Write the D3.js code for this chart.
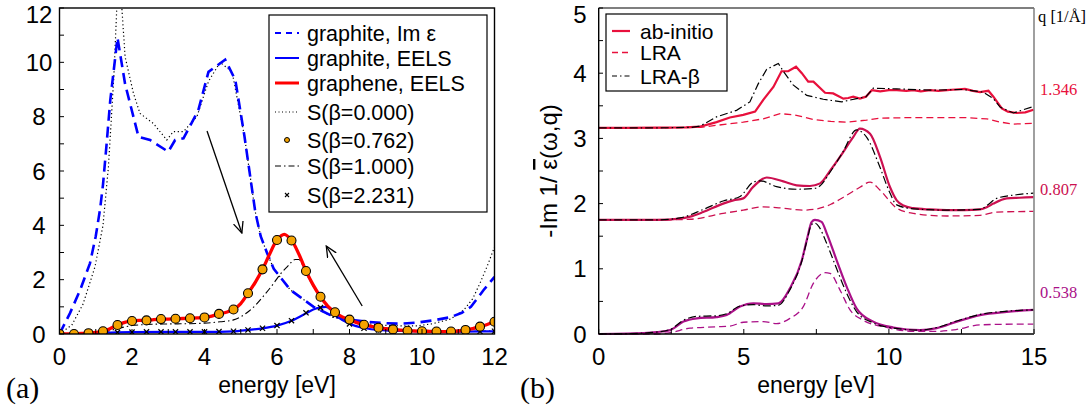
<!DOCTYPE html>
<html><head><meta charset="utf-8">
<script src="https://cdn.jsdelivr.net/npm/d3@7"></script>
<style>body{margin:0;background:#fff}svg{display:block}</style>
</head><body>
<svg id="c" width="1089" height="414"></svg>
<script>
// ---------- Panel (a) data ----------
const imEpsE = [0,0.29,0.57,0.84,1.0,1.12,1.2,1.3,1.4,1.6,1.81,2.18,2.5,3.0,3.19,3.42,3.83,4.11,4.57,4.85,5.1,5.4,5.55,5.72,5.91,6.37,7.01,7.56,8.02,8.5,8.94,9.4,9.87,10.3,10.79,11.1,11.35,11.55,11.7,12];
const imEpsV = [0,0.77,1.62,2.6,3.6,4.6,5.5,7.0,8.6,10.9,9.2,7.26,7.14,6.71,7.14,7.2,8.24,9.65,10.1,9.35,7.3,4.5,3.6,3.0,2.4,1.62,1.0,0.64,0.52,0.45,0.40,0.38,0.42,0.5,0.62,0.78,1.0,1.35,1.62,2.1];
const s000E = [0,0.34,0.65,0.98,1.2,1.35,1.5,1.6,1.72,1.81,2.04,2.22,2.59,2.96,3.14,3.42,3.79,4.11,4.43,4.76,5.1,5.4,5.55,5.72,5.91,6.37,7.01,7.56,8.02,8.5,8.94,9.4,9.87,10.3,10.79,11.15,11.4,11.6,11.8,12];
const s000V = [0,0.33,1.1,2.48,4.0,6.16,9.5,12.6,12.0,10.2,8.86,8.12,7.75,7.14,7.45,7.45,8.0,9.3,10.0,9.65,7.3,4.5,3.6,3.0,2.4,1.62,1.0,0.62,0.47,0.38,0.32,0.3,0.3,0.38,0.55,0.88,1.3,1.87,2.5,3.2];
const eelsGraphiteE = [0,0.4,0.8,1.2,1.6,2,3,4,4.8,5.2,5.6,6.0,6.4,6.8,7.0,7.2,7.35,7.5,7.66,8.0,8.4,8.9,9.5,10,11,12];
const eelsGraphiteV = [0,0,0.01,0.04,0.06,0.07,0.08,0.08,0.1,0.15,0.21,0.31,0.49,0.76,0.9,0.98,1.0,0.88,0.66,0.38,0.22,0.14,0.11,0.1,0.09,0.1];
const eelsGrapheneE = d3.range(0,12.001,0.2);
const eelsGrapheneV = [0,0,0.01,0.02,0.03,0.06,0.1,0.2,0.33,0.43,0.48,0.5,0.5,0.53,0.55,0.55,0.56,0.57,0.58,0.59,0.61,0.66,0.74,0.8,0.9,1.12,1.5,1.9,2.38,2.95,3.46,3.67,3.45,2.95,2.32,1.8,1.37,1.03,0.8,0.63,0.53,0.42,0.34,0.28,0.23,0.2,0.17,0.14,0.12,0.11,0.1,0.1,0.09,0.09,0.09,0.11,0.15,0.2,0.27,0.35,0.45];
const markE = d3.range(0,12.001,0.4);
const s0762V = [0,0,0.03,0.1,0.33,0.48,0.5,0.55,0.56,0.58,0.61,0.74,0.9,1.5,2.38,3.46,3.44,2.32,1.37,0.8,0.53,0.34,0.23,0.17,0.12,0.1,0.09,0.09,0.15,0.27,0.45];
const s2231V = [0,0,0.01,0.03,0.06,0.07,0.08,0.08,0.08,0.08,0.08,0.09,0.1,0.15,0.21,0.31,0.49,0.78,0.97,0.7,0.37,0.21,0.15,0.12,0.11,0.1,0.1,0.09,0.09,0.09,0.1];
const s1000E = [0,0.4,0.8,1.2,1.6,2.0,2.4,3.0,3.6,4.0,4.43,4.8,5.17,5.4,5.63,5.9,6.09,6.3,6.5,6.6,6.8,7.0,7.2,7.6,8.0,8.4,8.8,9.2,9.6,10,10.4,10.8,11.2,11.6,12];
const s1000V = [0,0,0.02,0.06,0.2,0.31,0.35,0.37,0.38,0.4,0.45,0.52,0.78,1.05,1.4,1.85,2.2,2.5,2.74,2.74,2.25,1.75,1.33,0.77,0.5,0.32,0.22,0.16,0.12,0.1,0.09,0.08,0.09,0.1,0.12];
const xTicksA = [0,2,4,6,8,10,12];
const yTicksA = [0,2,4,6,8,10,12];
const legendA = ["graphite, Im \u03b5","graphite, EELS","graphene, EELS","S(\u03b2=0.000)","S(\u03b2=0.762)","S(\u03b2=1.000)","S(\u03b2=2.231)"];

// ---------- Panel (b) data ----------
const qLabels = ["1.346","0.807","0.538"];
const abTopE = [0,1,2,3,3.5,4.06,4.52,4.98,5.39,5.67,6.02,6.3,6.53,6.8,7.0,7.22,7.4,7.8,8.08,8.43,8.6,8.77,9.0,9.21,9.41,9.7,10.0,10.27,10.6,10.84,11.1,11.42,11.7,12.0,12.3,12.62,12.9,13.14,13.43,13.6,13.89,14.1,14.4,14.7,14.98];
const abTopV = [3.16,3.16,3.165,3.17,3.18,3.25,3.32,3.36,3.41,3.59,3.79,4.03,4.03,4.1,4.0,3.87,3.87,3.7,3.69,3.61,3.62,3.64,3.61,3.64,3.74,3.72,3.74,3.74,3.73,3.74,3.72,3.74,3.73,3.74,3.75,3.76,3.73,3.71,3.73,3.64,3.46,3.41,3.39,3.4,3.44];
const lraTopE = [0,2,3.5,4.06,4.98,5.67,6.25,6.75,7.4,8.0,8.55,9.23,9.69,10.84,12.56,13.37,13.83,14.29,14.98];
const lraTopV = [3.16,3.16,3.17,3.2,3.25,3.3,3.38,3.36,3.29,3.26,3.25,3.28,3.31,3.32,3.32,3.3,3.25,3.22,3.23];
const betaTopE = [0,2,3.2,3.5,4.06,4.75,5.21,5.5,5.79,6.19,6.36,6.7,7.17,7.74,8.37,8.89,9.21,9.46,10.27,11.42,12.56,13.25,13.6,13.83,14.29,14.98];
const betaTopV = [3.16,3.16,3.17,3.19,3.33,3.43,3.56,3.84,4.06,4.15,4.03,3.82,3.66,3.6,3.56,3.61,3.64,3.77,3.76,3.74,3.75,3.71,3.61,3.48,3.39,3.49];
const abMidE = [0,2,2.8,3.15,3.6,4.29,4.64,4.98,5.33,5.79,6.36,6.82,7.28,7.63,8.0,8.32,8.77,9.0,9.35,9.69,10.04,10.27,10.5,10.84,11.4,12,12.6,13.14,13.4,13.6,14.06,14.5,14.98];
const abMidV = [1.75,1.75,1.77,1.8,1.87,2.0,2.05,2.08,2.26,2.4,2.34,2.28,2.27,2.31,2.52,2.72,3.02,3.15,3.07,2.72,2.25,2.05,1.97,1.93,1.91,1.9,1.9,1.91,1.95,2.0,2.08,2.09,2.1];
const betaMidE = [0,2,2.8,3.6,4.29,4.87,5.33,5.56,6.13,6.82,7.4,7.62,8.0,8.4,8.89,9.23,9.69,10.0,10.27,10.84,12,13.14,13.4,13.71,14.29,14.98];
const betaMidV = [1.75,1.75,1.78,1.91,2.04,2.11,2.33,2.35,2.26,2.22,2.23,2.27,2.5,2.78,3.13,3.02,2.56,2.2,1.98,1.92,1.9,1.91,1.98,2.08,2.13,2.16];
const lraMidE = [0,2,3.15,4.29,4.98,5.67,6.36,7.05,7.4,8.0,8.55,9.0,9.35,9.69,10.27,10.84,11.99,13.14,13.71,14.98];
const lraMidV = [1.75,1.75,1.76,1.85,1.9,1.95,1.93,1.9,1.91,1.99,2.13,2.25,2.33,2.21,1.93,1.85,1.81,1.82,1.87,1.88];
const abBotE = [0,1,2.0,2.46,2.92,3.38,4.06,4.41,4.87,5.33,5.79,6.19,6.59,7.0,7.17,7.34,7.45,7.68,7.86,8.2,8.55,8.89,9.46,10.15,11.07,11.65,12.34,13.14,14.06,14.98];
const abBotV = [0,0.005,0.03,0.06,0.19,0.24,0.26,0.29,0.42,0.47,0.46,0.47,0.7,1.13,1.44,1.72,1.75,1.72,1.54,1.13,0.72,0.39,0.19,0.1,0.06,0.09,0.19,0.29,0.34,0.37];
const betaBotE = [0,1,2.0,2.46,2.92,3.38,4.06,4.41,4.87,5.33,5.79,6.19,6.59,7.0,7.17,7.34,7.45,7.6,7.8,8.2,8.55,8.89,9.46,10.15,11.07,11.65,12.34,13.14,14.06,14.98];
const betaBotV = [0,0.005,0.03,0.07,0.21,0.27,0.28,0.31,0.43,0.45,0.43,0.44,0.68,1.12,1.42,1.68,1.7,1.64,1.45,1.0,0.62,0.34,0.17,0.09,0.06,0.1,0.2,0.3,0.35,0.37];
const lraBotE = [0,2,2.46,3.15,4.06,4.52,4.98,5.67,6.13,6.59,7.05,7.4,7.8,7.97,8.32,8.66,9.12,9.92,10.84,11.65,12.34,13.14,14.29,14.98];
const lraBotV = [0,0,0.02,0.09,0.11,0.12,0.18,0.19,0.16,0.24,0.42,0.78,0.94,0.93,0.67,0.37,0.21,0.1,0.04,0.04,0.07,0.14,0.15,0.15];
const xTicksB = [0,5,10,15];
const yTicksB = [0,1,2,3,4,5];
const legendB = ["ab-initio","LRA","LRA-\u03b2"];

// ---------- drawing ----------
const svg = d3.select("#c");
const SANS = "Liberation Sans, Arial, sans-serif";
const SERIF = "Liberation Serif, Times New Roman, serif";
const zip = (E,V) => E.map((e,i)=>[e,V[i]]);

// Panel a
const xA = d3.scaleLinear().domain([0,12]).range([59.5,494.5]);
const yA = d3.scaleLinear().domain([0,12]).range([334,8]);
svg.append("defs").append("clipPath").attr("id","clipA").append("rect")
  .attr("x",59.5).attr("y",8).attr("width",435).attr("height",326);
const gA = svg.append("g");
const plotA = gA.append("g").attr("clip-path","url(#clipA)");
const lineA = c => d3.line().x(d=>xA(d[0])).y(d=>yA(d[1])).curve(c||d3.curveLinear);

plotA.append("path").datum(zip(s000E,s000V)).attr("d",lineA()).attr("fill","none")
  .attr("stroke","#000").attr("stroke-width",1.2).attr("stroke-dasharray","1.2,2.6");
plotA.append("path").datum(zip(imEpsE,imEpsV)).attr("d",lineA()).attr("fill","none")
  .attr("stroke","#0000ff").attr("stroke-width",2.6).attr("stroke-dasharray","11,6");
plotA.append("path").datum(zip(s1000E,s1000V)).attr("d",lineA(d3.curveMonotoneX)).attr("fill","none")
  .attr("stroke","#000").attr("stroke-width",1.1).attr("stroke-dasharray","7,3,1.5,3");
plotA.append("path").datum(zip(eelsGraphiteE,eelsGraphiteV)).attr("d",lineA(d3.curveMonotoneX)).attr("fill","none")
  .attr("stroke","#0000ff").attr("stroke-width",2.2);
plotA.append("path").datum(zip(eelsGrapheneE,eelsGrapheneV)).attr("d",lineA(d3.curveCatmullRom)).attr("fill","none")
  .attr("stroke","#ff0000").attr("stroke-width",3.3);
const xm = plotA.append("g");
zip(markE,s2231V).forEach(d=>{
  const cx=xA(d[0]), cy=yA(d[1]), r=2.6;
  xm.append("path").attr("d",`M${cx-r},${cy-r}L${cx+r},${cy+r}M${cx-r},${cy+r}L${cx+r},${cy-r}`)
    .attr("stroke","#000").attr("stroke-width",1.2);
});
plotA.append("g").selectAll("circle").data(zip(markE,s0762V)).join("circle")
  .attr("cx",d=>xA(d[0])).attr("cy",d=>yA(d[1])).attr("r",4.5)
  .attr("fill","#f5a300").attr("stroke","#000").attr("stroke-width",1.1);

// arrows
const defs = svg.select("defs");
defs.append("marker").attr("id","arr").attr("viewBox","0 0 12 12").attr("refX",11).attr("refY",6)
  .attr("markerWidth",12).attr("markerHeight",12).attr("markerUnits","userSpaceOnUse").attr("orient","auto")
  .append("path").attr("d","M0,1L11,6L0,11").attr("fill","none").attr("stroke","#000").attr("stroke-width",1.3);
const arrows = [[4.07,7.47,5.03,3.72],[8.35,1.03,7.36,3.24]];
arrows.forEach(a=>{
  gA.append("line").attr("x1",xA(a[0])).attr("y1",yA(a[1])).attr("x2",xA(a[2])).attr("y2",yA(a[3]))
    .attr("stroke","#000").attr("stroke-width",1.3).attr("marker-end","url(#arr)");
});

gA.append("rect").attr("x",59.5).attr("y",8).attr("width",435).attr("height",326)
  .attr("fill","none").attr("stroke","#000").attr("stroke-width",1.4);
d3.range(0,12.01,1).forEach(v=>{
  gA.append("line").attr("x1",xA(v)).attr("x2",xA(v)).attr("y1",334).attr("y2",329).attr("stroke","#000");
  gA.append("line").attr("y1",yA(v)).attr("y2",yA(v)).attr("x1",59.5).attr("x2",64).attr("stroke","#000");
});
gA.selectAll("text.xt").data(xTicksA).join("text").attr("class","xt")
  .attr("x",d=>xA(d)).attr("y",365).attr("text-anchor","middle")
  .attr("font-family",SANS).attr("font-size",24).text(d=>d);
gA.selectAll("text.yt").data(yTicksA).join("text").attr("class","yt")
  .attr("x",39).attr("y",d=>Math.max(yA(d)+8.5,22.5)).attr("text-anchor","middle")
  .attr("font-family",SANS).attr("font-size",24).text(d=>d);
gA.append("text").attr("x",277).attr("y",393).attr("text-anchor","middle")
  .attr("font-family",SANS).attr("font-size",23).text("energy [eV]");
gA.append("text").attr("x",6).attr("y",398).attr("font-family",SERIF).attr("font-size",30).text("(a)");

// legend a
const lgA = gA.append("g");
lgA.append("rect").attr("x",269).attr("y",15).attr("width",218).attr("height",197)
  .attr("fill","#fff").attr("stroke","#000").attr("stroke-width",1.2);
const rowY = [33,58,83,112,140,166,195];
legendA.forEach((t,i)=>{
  const y=rowY[i];
  if(i===0) lgA.append("line").attr("x1",275).attr("x2",299).attr("y1",y).attr("y2",y).attr("stroke","#0000ff").attr("stroke-width",2).attr("stroke-dasharray","6,5");
  if(i===1) lgA.append("line").attr("x1",275).attr("x2",299).attr("y1",y).attr("y2",y).attr("stroke","#0000ff").attr("stroke-width",2);
  if(i===2) lgA.append("line").attr("x1",275).attr("x2",299).attr("y1",y).attr("y2",y).attr("stroke","#ff0000").attr("stroke-width",3);
  if(i===3) lgA.append("line").attr("x1",275).attr("x2",299).attr("y1",y).attr("y2",y).attr("stroke","#000").attr("stroke-width",1).attr("stroke-dasharray","1,2.5");
  if(i===4) lgA.append("circle").attr("cx",287).attr("cy",y).attr("r",2.5).attr("fill","#f5a300").attr("stroke","#000").attr("stroke-width",1);
  if(i===5) lgA.append("line").attr("x1",275).attr("x2",299).attr("y1",y).attr("y2",y).attr("stroke","#000").attr("stroke-width",1).attr("stroke-dasharray","6,3,1.5,3");
  if(i===6){const r=2;lgA.append("path").attr("d",`M${287-r},${y-r}L${287+r},${y+r}M${287-r},${y+r}L${287+r},${y-r}`).attr("stroke","#000").attr("stroke-width",1.1);}
  lgA.append("text").attr("x",307).attr("y",y+7.5).attr("font-family",SANS).attr("font-size",21.5).text(t);
});

// Panel b
const xB = d3.scaleLinear().domain([0,15]).range([598.7,1034]);
const yB = d3.scaleLinear().domain([0,5]).range([334,8]);
const gB = svg.append("g");
const lineB = c => d3.line().x(d=>xB(d[0])).y(d=>yB(d[1])).curve(c||d3.curveLinear);
const cTop="#e8103c", cMid="#cc1050", cBot="#aa1088";
const groups = [
  {ab:[abTopE,abTopV],lra:[lraTopE,lraTopV],beta:[betaTopE,betaTopV],c:cTop,curve:d3.curveLinear},
  {ab:[abMidE,abMidV],lra:[lraMidE,lraMidV],beta:[betaMidE,betaMidV],c:cMid,curve:d3.curveMonotoneX},
  {ab:[abBotE,abBotV],lra:[lraBotE,lraBotV],beta:[betaBotE,betaBotV],c:cBot,curve:d3.curveMonotoneX}
];
groups.forEach(g=>{
  gB.append("path").datum(zip(...g.lra)).attr("d",lineB(g.curve)).attr("fill","none")
    .attr("stroke",g.c).attr("stroke-width",1.3).attr("stroke-dasharray","7,4");
  gB.append("path").datum(zip(...g.ab)).attr("d",lineB(g.curve)).attr("fill","none")
    .attr("stroke",g.c).attr("stroke-width",2.2);
  gB.append("path").datum(zip(...g.beta)).attr("d",lineB(g.curve)).attr("fill","none")
    .attr("stroke","#000").attr("stroke-width",1.2).attr("stroke-dasharray","8,3,1.5,3");
});
gB.append("line").attr("x1",598.7).attr("x2",1034).attr("y1",8).attr("y2",8).attr("stroke","#000").attr("stroke-width",1.2);
gB.append("line").attr("x1",598.7).attr("x2",1034).attr("y1",334).attr("y2",334).attr("stroke","#000").attr("stroke-width",1.4);
gB.append("line").attr("x1",598.7).attr("x2",598.7).attr("y1",8).attr("y2",334).attr("stroke","#000").attr("stroke-width",1.4);
gB.append("line").attr("x1",1034).attr("x2",1034).attr("y1",8).attr("y2",334).attr("stroke","#777").attr("stroke-width",1.4);
d3.range(0,15.01,2.5).forEach(v=>{
  gB.append("line").attr("x1",xB(v)).attr("x2",xB(v)).attr("y1",334).attr("y2",329).attr("stroke","#000");
});
d3.range(0,5.01,0.5).forEach(v=>{
  gB.append("line").attr("y1",yB(v)).attr("y2",yB(v)).attr("x1",598.7).attr("x2",603).attr("stroke","#000");
});
gB.selectAll("text.xt").data(xTicksB).join("text").attr("class","xt")
  .attr("x",d=>xB(d)).attr("y",365).attr("text-anchor","middle")
  .attr("font-family",SANS).attr("font-size",24).text(d=>d);
gB.selectAll("text.yt").data(yTicksB).join("text").attr("class","yt")
  .attr("x",580).attr("y",d=>Math.max(yB(d)+8.5,22.5)).attr("text-anchor","middle")
  .attr("font-family",SANS).attr("font-size",24).text(d=>d);
gB.append("text").attr("x",816).attr("y",393).attr("text-anchor","middle")
  .attr("font-family",SANS).attr("font-size",23).text("energy [eV]");
gB.append("text").attr("x",520).attr("y",398).attr("font-family",SERIF).attr("font-size",30).text("(b)");
const yl = gB.append("text").attr("transform","translate(557,171) rotate(-90)").attr("text-anchor","middle")
  .attr("font-family",SANS).attr("font-size",24);
yl.append("tspan").text("-Im 1/ ");
yl.append("tspan").attr("text-decoration","overline").text("\u03b5");
yl.append("tspan").text("(\u03c9,q)");

gB.append("text").attr("x",1038).attr("y",22).attr("font-family",SERIF).attr("font-size",16.5).text("q [1/\u00c5]");
const qY = [95,195,298];
qLabels.forEach((t,i)=>{
  gB.append("text").attr("x",1040).attr("y",qY[i]).attr("font-family",SERIF).attr("font-size",16.5)
    .attr("fill",[cTop,cMid,cBot][i]).text(t);
});

const lgB = gB.append("g");
lgB.append("rect").attr("x",606).attr("y",14).attr("width",121).attr("height",77)
  .attr("fill","#fff").attr("stroke","#000").attr("stroke-width",1.2);
const rowYB=[31,52.5,76];
legendB.forEach((t,i)=>{
  const y=rowYB[i];
  const ln = lgB.append("line").attr("x1",612).attr("x2",630).attr("y1",y).attr("y2",y);
  if(i===0) ln.attr("stroke",cTop).attr("stroke-width",2.2);
  if(i===1) ln.attr("stroke",cTop).attr("stroke-width",1.3).attr("stroke-dasharray","6,4");
  if(i===2) ln.attr("stroke","#000").attr("stroke-width",1.2).attr("stroke-dasharray","5,3,1.5,3");
  lgB.append("text").attr("x",640).attr("y",y+7.5).attr("font-family",SANS).attr("font-size",21).text(t);
});
</script>
</body></html>
